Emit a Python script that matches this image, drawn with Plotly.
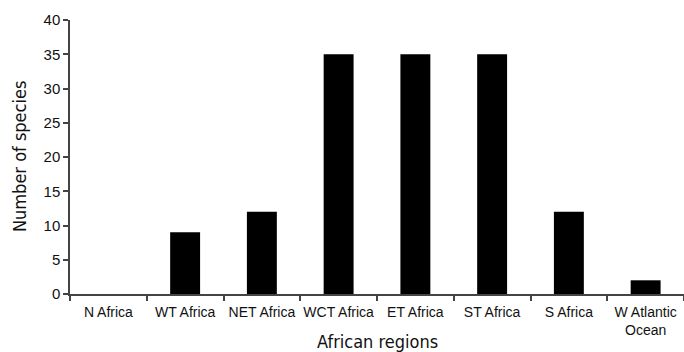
import plotly.graph_objects as go

regions = ["N Africa", "WT Africa", "NET Africa", "WCT Africa", "ET Africa",
           "ST Africa", "S Africa", "W Atlantic<br>Ocean"]
species = [0, 9, 12, 35, 35, 35, 12, 2]
y_ticks = [0, 5, 10, 15, 20, 25, 30, 35, 40]

fig = go.Figure(go.Bar(x=regions, y=species, marker=dict(color="black", line=dict(width=0)),
                       width=0.39))

axis_color = "#444444"
title_font = "Liberation Sans Narrow, DejaVu Sans Condensed, Arial Narrow, sans-serif"
fig.update_layout(
    width=684, height=352,
    margin=dict(l=70, r=0, t=20, b=58),
    paper_bgcolor="white", plot_bgcolor="white",
    showlegend=False,
    font=dict(family="Liberation Sans, Arial, sans-serif", size=14, color="#111111"),
    xaxis=dict(showline=True, linecolor=axis_color, linewidth=1.5,
               ticks="outside", tickson="boundaries", ticklen=5, tickcolor=axis_color,
               tickwidth=1.5, showgrid=False, automargin=False, tickangle=0,
               ticklabelstandoff=4, tickfont=dict(size=14)),
    yaxis=dict(range=[0, 40], tickvals=y_ticks, showline=True, linecolor=axis_color,
               linewidth=1.5, ticks="outside", ticklen=5, tickcolor=axis_color,
               tickwidth=1.5, showgrid=False, zeroline=False, automargin=False,
               tickfont=dict(size=15)),
    annotations=[
        dict(text="African regions", x=0.5, y=-0.128, xref="paper", yref="paper",
             xanchor="center", yanchor="top", showarrow=False,
             font=dict(family=title_font, size=18)),
        dict(text="Number of species", x=-0.083, y=0.5, xref="paper", yref="paper",
             xanchor="center", yanchor="middle", showarrow=False, textangle=-90,
             font=dict(family=title_font, size=18)),
    ],
)

fig.write_html("out.html", config={"displayModeBar": False},
               post_script="document.body.style.margin='0px';")
